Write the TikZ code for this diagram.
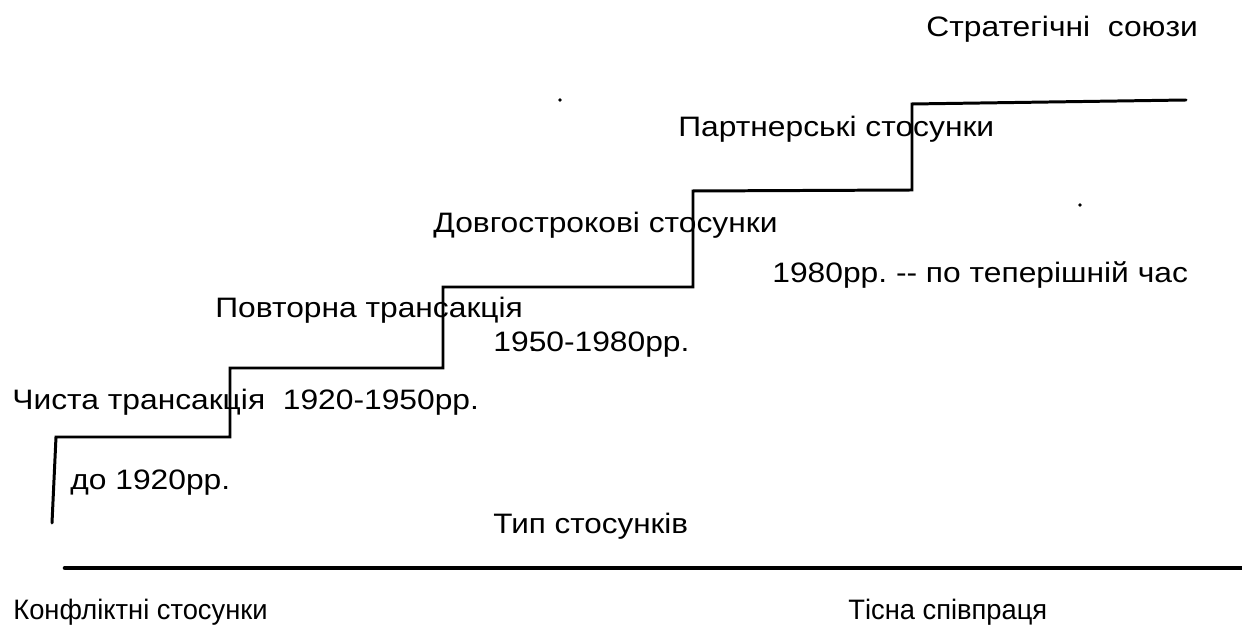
\documentclass[tikz,border=0pt]{standalone}
\usepackage{fontspec}
\setmainfont{Liberation Sans}
\frenchspacing
\begin{document}
\begin{tikzpicture}[x=0.02cm, y=-0.02cm, line cap=round, line join=miter,
  lbl/.style={anchor=base west, inner sep=0pt, font=\fontsize{16}{19}\selectfont, xscale=1.13},
  narrow/.style={lbl, xscale=0.86}]
  \useasboundingbox (0,0) rectangle (1242,634);
  % staircase
  \coordinate (P0) at (52,523);
  \coordinate (P1) at (56,437);
  \coordinate (P2) at (230,437);
  \coordinate (P3) at (230,368);
  \coordinate (P4) at (443,368);
  \coordinate (P5) at (443,287);
  \coordinate (P6) at (693,287);
  \coordinate (P7) at (693,191);
  \coordinate (P8) at (912,190);
  \coordinate (P9) at (912,104);
  \coordinate (P10) at (1186,100);
  \draw[line width=1.7pt] (P0)--(P1)--(P2)--(P3)--(P4)--(P5)--(P6)--(P7)--(P8)--(P9)--(P10);
  % axis
  \coordinate (L) at (65,568);
  \coordinate (R) at (1242,568);
  \draw[line width=2.6pt] (L)--(R);
  % stray dots
  \fill (560,100) circle (1.8);
  \fill (1080,205) circle (1.8);
  % labels
  \node[lbl] (alliance) at (926,37) {Стратегічні\ \ союзи};
  \node[lbl] (partner) at (678,137) {Партнерські стосунки};
  \node[lbl] (longterm) at (433,233) {Довгострокові стосунки};
  \node[lbl] (now) at (772,283) {1980рр. -{}- по теперішній час};
  \node[lbl] (repeat) at (215,318) {Повторна трансакція};
  \node[lbl] (y1950) at (493,352) {19\rlap{.}50-1980рр.};
  \node[lbl] (pure) at (12,410) {Чиста трансакція\ \ 1920-1950рр.};
  \node[lbl] (y1920) at (70,490) {до 1920рр.};
  \node[lbl, xscale=0.99] (type) at (493,534) {Тип стосунків};
  \node[narrow] (conflict) at (13,620) {Конфліктні стосунки};
  \node[narrow] (close) at (848,620) {Тісна співпраця};
\end{tikzpicture}
\end{document}
